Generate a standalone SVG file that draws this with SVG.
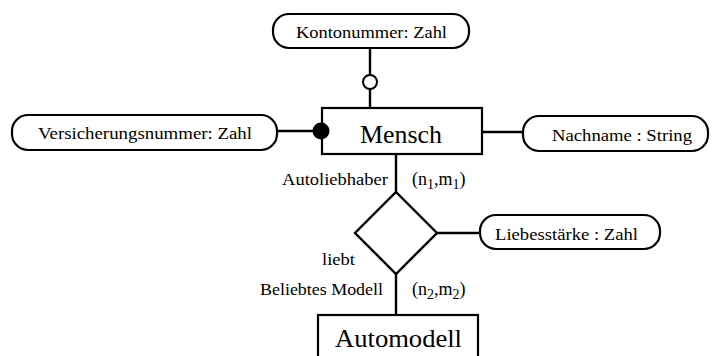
<svg xmlns="http://www.w3.org/2000/svg" width="713" height="356" viewBox="0 0 713 356">
  <style>
    .entity { fill: #fff; stroke: #000; stroke-width: 2.2; }
    .attr { fill: #fff; stroke: #000; stroke-width: 2.2; }
    .rel { fill: #fff; stroke: #000; stroke-width: 2.4; stroke-linejoin: miter; }
    .link { stroke: #000; stroke-width: 2.4; fill: none; }
    text { font-family: "Liberation Serif", "Times New Roman", serif; fill: #000; }
    .small { font-size: 17.5px; }
    .big { font-size: 24.5px; }
    .card { font-size: 18px; }
    .sub { font-size: 14px; }
  </style>

  <!-- connectors -->
  <g id="connectors">
    <line class="link" x1="370" y1="48" x2="370" y2="108"/>
    <line class="link" x1="277" y1="131" x2="322" y2="131"/>
    <line class="link" x1="482" y1="132" x2="523" y2="132"/>
    <line class="link" x1="396" y1="154" x2="396" y2="192"/>
    <line class="link" x1="437" y1="233" x2="480" y2="233"/>
    <line class="link" x1="396" y1="274" x2="396" y2="315"/>
  </g>

  <!-- entities -->
  <g id="mensch">
    <rect class="entity" x="322" y="108" width="160" height="46"/>
    <text class="big" x="360" y="143" textLength="82" lengthAdjust="spacingAndGlyphs">Mensch</text>
  </g>
  <g id="automodell">
    <rect class="entity" x="318" y="315" width="160" height="60"/>
    <text class="big" x="335" y="347" textLength="127" lengthAdjust="spacingAndGlyphs">Automodell</text>
  </g>

  <!-- optional (open) and mandatory (filled) markers on top of the entity edge -->
  <g id="markers">
    <circle cx="370" cy="82" r="7" fill="#fff" stroke="#000" stroke-width="2"/>
    <circle cx="321" cy="131" r="8.5" fill="#000"/>
  </g>

  <!-- attributes -->
  <g id="kontonummer">
    <rect class="attr" x="273" y="14" width="196" height="34" rx="16" ry="16"/>
    <text class="small" x="296" y="38" textLength="151" lengthAdjust="spacingAndGlyphs">Kontonummer: Zahl</text>
  </g>
  <g id="versicherungsnummer">
    <rect class="attr" x="12" y="115" width="265" height="35" rx="16" ry="16"/>
    <text class="small" x="38" y="139" textLength="214" lengthAdjust="spacingAndGlyphs">Versicherungsnummer: Zahl</text>
  </g>
  <g id="nachname">
    <rect class="attr" x="523" y="116" width="185" height="35" rx="16" ry="16"/>
    <text class="small" x="552" y="141" textLength="140" lengthAdjust="spacingAndGlyphs">Nachname : String</text>
  </g>
  <g id="liebesstaerke">
    <rect class="attr" x="480" y="215" width="180" height="34" rx="16" ry="16"/>
    <text class="small" x="495" y="240" textLength="143" lengthAdjust="spacingAndGlyphs">Liebesstärke : Zahl</text>
  </g>

  <!-- relationship -->
  <g id="liebt">
    <polygon class="rel" points="396,192 437,233 396,274 355,233"/>
    <text class="small" x="322" y="265" textLength="33" lengthAdjust="spacingAndGlyphs">liebt</text>
  </g>

  <!-- roles and cardinalities -->
  <g id="roles">
    <text class="small" x="282" y="185" textLength="106" lengthAdjust="spacingAndGlyphs">Autoliebhaber</text>
    <text class="small" x="260" y="295" textLength="123" lengthAdjust="spacingAndGlyphs">Beliebtes Modell</text>
    <text class="card" x="412" y="185">(n<tspan class="sub" dy="4">1</tspan><tspan dy="-4">,m</tspan><tspan class="sub" dy="4">1</tspan><tspan dy="-4">)</tspan></text>
    <text class="card" x="412" y="295">(n<tspan class="sub" dy="4">2</tspan><tspan dy="-4">,m</tspan><tspan class="sub" dy="4">2</tspan><tspan dy="-4">)</tspan></text>
  </g>
</svg>
